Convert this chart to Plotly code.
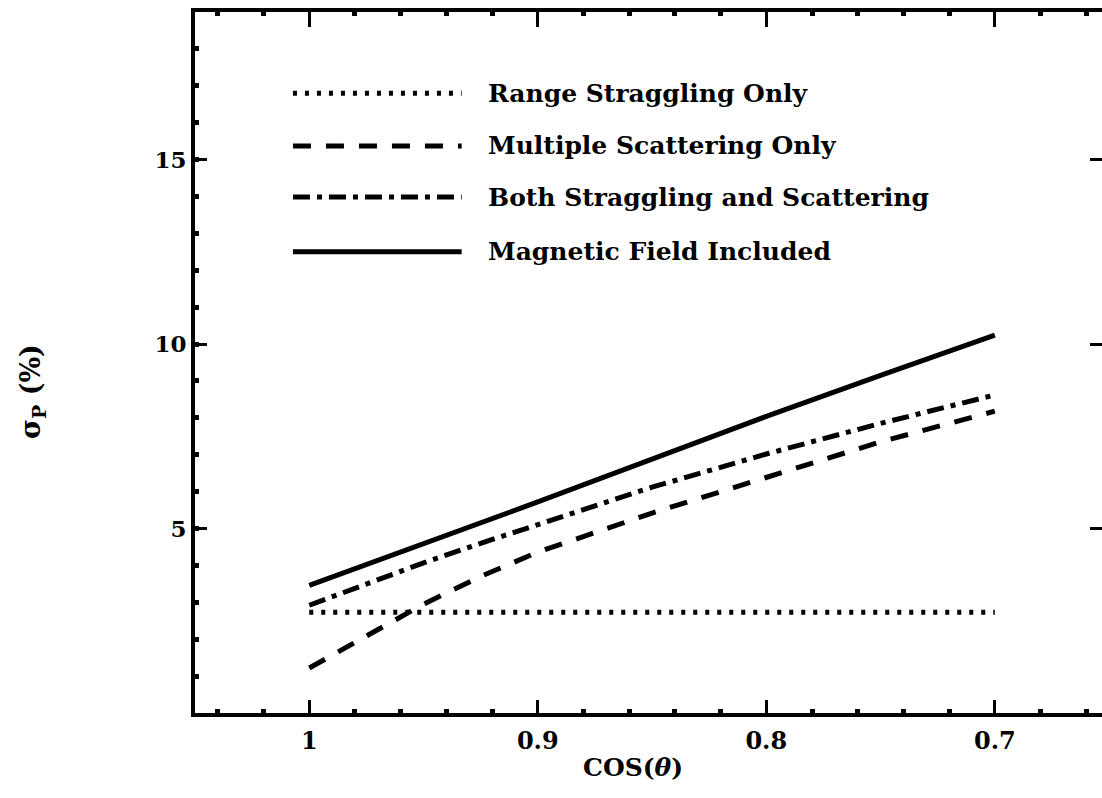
import plotly.graph_objects as go

# ---- data ----
cos_theta = [1.0, 0.975, 0.95, 0.925, 0.9, 0.85, 0.8, 0.75, 0.7]
range_straggling = [2.73, 2.73, 2.73, 2.73, 2.73, 2.73, 2.73, 2.73, 2.73]
multiple_scattering = [1.22, 2.08, 2.95, 3.70, 4.36, 5.42, 6.40, 7.35, 8.18]
both_effects = [2.92, 3.51, 4.07, 4.60, 5.11, 6.12, 7.02, 7.85, 8.62]
magnetic_field = [3.46, 4.02, 4.59, 5.15, 5.72, 6.88, 8.04, 9.15, 10.24]

series_names = ["Range Straggling Only", "Multiple Scattering Only",
                "Both Straggling and Scattering", "Magnetic Field Included"]
series_values = [range_straggling, multiple_scattering, both_effects, magnetic_field]
series_dash = ["4px,8px", "18px,15px", "17px,7px,5px,7px", "solid"]

y_ticks = [5, 10, 15]
x_range = [1.05, 0.6531]
y_range = [0, 19]
x_title = "COS(<i>θ</i>)"
y_title = "σ<sub>P</sub> (%)"

FONT = "DejaVu Serif"
LW = 5

fig = go.Figure()
for i, (name, vals, dash) in enumerate(zip(series_names, series_values, series_dash)):
    fig.add_trace(go.Scatter(
        x=cos_theta, y=vals, mode="lines", name=name,
        line=dict(color="black", width=LW, dash=dash),
        showlegend=False,
        xaxis="x2" if i == 0 else "x",
        yaxis="y2" if i == 0 else "y",
    ))

# manual legend (long line samples like the original)
leg_x0, leg_x1, leg_tx = 0.108, 0.294, 0.321
leg_rows = [0.884, 0.809, 0.736, 0.658]
for name, dash, yy in zip(series_names, series_dash, leg_rows):
    fig.add_shape(type="line", xref="paper", yref="paper",
                  x0=leg_x0, x1=leg_x1, y0=yy, y1=yy,
                  line=dict(color="black", width=LW, dash=dash))
    fig.add_annotation(xref="paper", yref="paper", x=leg_tx, y=yy,
                       text=name, showarrow=False, xanchor="left", yanchor="middle",
                       font=dict(family=FONT, size=25, color="black", weight="bold"))

# axis titles
fig.add_annotation(xref="paper", yref="paper", x=0.483, y=-0.078,
                   text=x_title, showarrow=False, xanchor="center", yanchor="middle",
                   font=dict(family=FONT, size=25, color="black", weight="bold"))
fig.add_annotation(xref="paper", yref="paper", x=-0.179, y=0.459,
                   text=y_title, showarrow=False, textangle=-90,
                   xanchor="center", yanchor="middle",
                   font=dict(family=FONT, size=27, color="black", weight="bold"))

minor_x = dict(ticks="inside", tickmode="linear", tick0=0, dtick=0.02,
               ticklen=4, tickwidth=5, tickcolor="black")
minor_y = dict(ticks="inside", tickmode="linear", tick0=0, dtick=1,
               ticklen=4, tickwidth=5, tickcolor="black")

fig.update_layout(
    width=1102, height=798,
    margin=dict(l=195, r=0, t=12, b=85),
    paper_bgcolor="white", plot_bgcolor="white",
    font=dict(family=FONT, size=23, color="black", weight="bold"),
    xaxis=dict(
        range=x_range,
        tickmode="linear", tick0=0, dtick=0.1,
        ticks="inside", ticklen=13, tickwidth=3, tickcolor="black",
        minor=minor_x,
        showline=True, linewidth=4, linecolor="black", mirror=False,
        showgrid=False, zeroline=False,
        ticklabelstandoff=3,
        tickfont=dict(family=FONT, size=24, weight="bold"),
    ),
    xaxis2=dict(
        range=x_range, overlaying="x", side="top",
        tickmode="linear", tick0=0, dtick=0.1, showticklabels=False,
        ticks="inside", ticklen=15, tickwidth=3, tickcolor="black",
        minor=minor_x,
        showline=True, linewidth=4, linecolor="black",
        showgrid=False, zeroline=False,
    ),
    yaxis=dict(
        range=y_range,
        tickmode="array", tickvals=y_ticks,
        ticks="inside", ticklen=12, tickwidth=3, tickcolor="black",
        minor=minor_y,
        showline=True, linewidth=4, linecolor="black", mirror=False,
        showgrid=False, zeroline=False,
        ticklabelstandoff=0,
        tickfont=dict(family=FONT, size=23, weight="bold"),
    ),
    yaxis2=dict(
        range=y_range, overlaying="y", side="right",
        tickmode="array", tickvals=y_ticks, showticklabels=False,
        ticks="inside", ticklen=12, tickwidth=3, tickcolor="black",
        showline=False, showgrid=False, zeroline=False,
    ),
)

fig.write_html("out.html")
